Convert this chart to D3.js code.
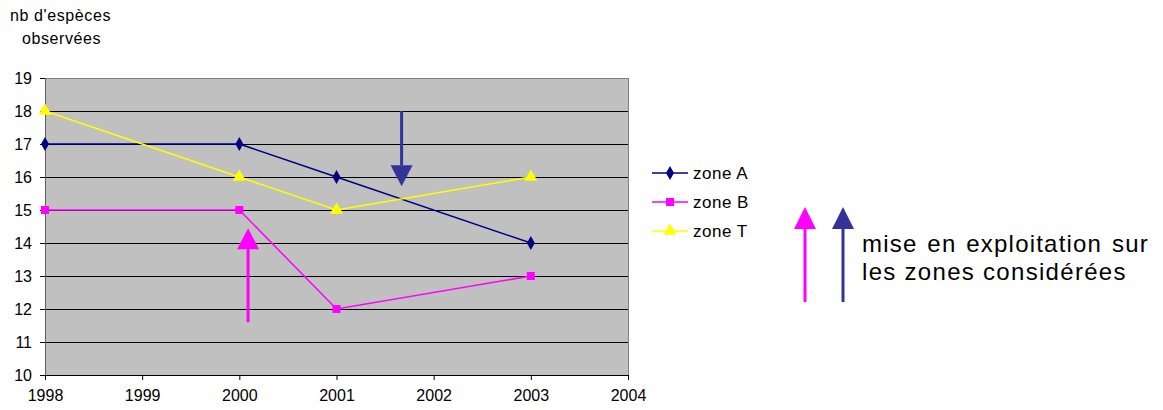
<!DOCTYPE html>
<html><head><meta charset="utf-8">
<script src="https://cdn.jsdelivr.net/npm/d3@7"></script>
<style>body{margin:0;background:#fff;font-family:"Liberation Sans",Arial,sans-serif}</style>
</head><body><svg id="c" width="1163" height="410"></svg>
<script>
const years = [1998, 2000, 2001, 2003];
const zoneA = [17, 17, 16, 14];
const zoneB = [15, 15, 12, 13];
const zoneT = [18, 16, 15, 16];
const xTicks = [1998, 1999, 2000, 2001, 2002, 2003, 2004];
const yTicks = [10, 11, 12, 13, 14, 15, 16, 17, 18, 19];
const seriesNames = ["zone A", "zone B", "zone T"];
const seriesColors = ["#000080", "#FF00FF", "#FFFF00"];
const arrowsInPlot = [
  {x: 2001.67, from: 18, to: 15.72, color: "#333399"},
  {x: 2000.09, from: 11.6, to: 14.45, color: "#FF00FF"}
];

const svg = d3.select("#c");
const x = d3.scaleLinear().domain([1998, 2004]).range([45, 628]);
const y = d3.scaleLinear().domain([10, 19]).range([375, 78]);

svg.append("rect").attr("x", x(1998)).attr("y", y(19)).attr("width", x(2004)-x(1998)).attr("height", y(10)-y(19)).attr("fill", "#C0C0C0");
svg.append("g").selectAll("line").data(yTicks.filter(d => d > 10)).join("line")
  .attr("x1", x(1998)).attr("x2", x(2004)).attr("y1", d => y(d)).attr("y2", d => y(d))
  .attr("stroke", d => d === 19 ? "#808080" : "#000").attr("stroke-width", 1).attr("shape-rendering", "crispEdges");
svg.append("line").attr("x1", x(2004)).attr("x2", x(2004)).attr("y1", y(19)).attr("y2", y(10)).attr("stroke", "#808080").attr("shape-rendering", "crispEdges");

const yAxis = svg.append("g").attr("transform", `translate(${x(1998)},0)`)
  .call(d3.axisLeft(y).tickValues(yTicks).tickSize(5).tickPadding(8).tickFormat(d3.format("d")));
const xAxis = svg.append("g").attr("transform", `translate(0,${y(10)})`)
  .call(d3.axisBottom(x).tickValues(xTicks).tickSize(5).tickPadding(10).tickFormat(d3.format("d")));
[yAxis, xAxis].forEach(a => {
  a.selectAll("text").attr("font-size", 16).attr("fill", "#000").attr("font-family", "Liberation Sans, Arial, sans-serif");
  a.selectAll("line").attr("stroke", "#000");
  a.select(".domain").attr("stroke", "#000").attr("shape-rendering", "crispEdges");
});
yAxis.select(".domain").attr("stroke", "#606060").attr("stroke-width", 1.5);

function arrow(g, x0, y0, x1, y1, color, headLen, headW, sw) {
  const dir = Math.sign(y1 - y0);
  g.append("line").attr("x1", x0).attr("x2", x1).attr("y1", y0).attr("y2", y1 - dir*headLen)
    .attr("stroke", color).attr("stroke-width", sw);
  g.append("path").attr("d", `M${x1},${y1} L${x1-headW/2},${y1-dir*headLen} L${x1+headW/2},${y1-dir*headLen} Z`).attr("fill", color);
}
const ag = svg.append("g");
arrowsInPlot.forEach(a => arrow(ag, x(a.x), y(a.from), x(a.x), y(a.to), a.color, 21, 22, 3));

const data = [zoneA, zoneB, zoneT];
const line = d3.line().x((d, i) => x(years[i])).y(d => y(d));
const symbols = [d3.symbolDiamond, d3.symbolSquare, d3.symbolTriangle];
const symSizes = [55, 64, 75];
data.forEach((vals, si) => {
  svg.append("path").attr("d", line(vals)).attr("fill", "none").attr("stroke", seriesColors[si]).attr("stroke-width", 1.5);
  svg.append("g").selectAll("path").data(vals).join("path")
    .attr("transform", (d, i) => `translate(${x(years[i])},${y(d)})`)
    .attr("d", d3.symbol().type(symbols[si]).size(symSizes[si])).attr("fill", seriesColors[si]);
});

seriesNames.forEach((n, i) => {
  const ly = 173 + i*29;
  svg.append("line").attr("x1", 652).attr("x2", 688).attr("y1", ly).attr("y2", ly).attr("stroke", seriesColors[i]).attr("stroke-width", 1.5);
  svg.append("path").attr("transform", `translate(670,${ly})`).attr("d", d3.symbol().type(symbols[i]).size(symSizes[i])).attr("fill", seriesColors[i]);
  svg.append("text").attr("x", 693).attr("y", ly + 6).attr("font-size", 17).attr("letter-spacing", 0.5).text(n);
});

arrow(svg, 805, 302, 805, 207, "#FF00FF", 22, 22, 3);
arrow(svg, 843, 302, 843, 207, "#333399", 22, 22, 3);
svg.append("text").attr("x", 862).attr("y", 252).attr("font-size", 24).attr("letter-spacing", 1.2).attr("word-spacing", 2).text("mise en exploitation sur");
svg.append("text").attr("x", 862).attr("y", 280).attr("font-size", 24).attr("letter-spacing", 1.3).text("les zones considérées");

svg.append("text").attr("x", 10).attr("y", 21).attr("font-size", 16).attr("letter-spacing", 0.6).text("nb d'espèces");
svg.append("text").attr("x", 22).attr("y", 44).attr("font-size", 16).attr("letter-spacing", 0.6).text("observées");
</script></body></html>
